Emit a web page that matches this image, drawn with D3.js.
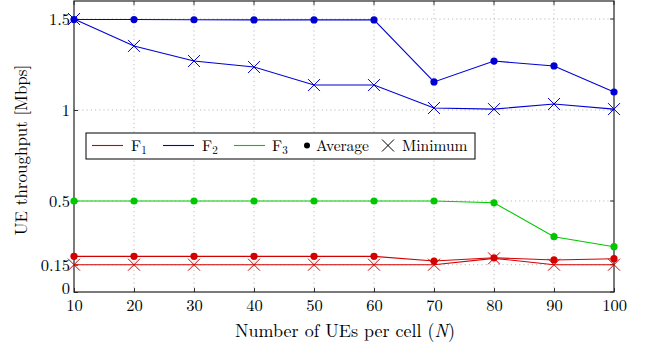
<!DOCTYPE html>
<html><head><meta charset="utf-8">
<script src="https://cdn.jsdelivr.net/npm/d3@7"></script>
<style>body{margin:0;background:#fff}svg{display:block}</style>
</head><body><svg id="c" width="654" height="349"></svg>
<script>
const xs = [10,20,30,40,50,60,70,80,90,100];
const f1Avg = [0.196,0.196,0.196,0.196,0.196,0.196,0.17,0.188,0.176,0.183];
const f1Min = [0.15,0.15,0.15,0.15,0.15,0.15,0.15,0.185,0.15,0.15];
const f2Avg = [1.497,1.497,1.496,1.495,1.495,1.495,1.154,1.269,1.242,1.099];
const f2Min = [1.5,1.352,1.269,1.236,1.137,1.137,1.011,1.005,1.033,1.005];
const f3Avg = [0.5,0.5,0.5,0.5,0.5,0.5,0.5,0.49,0.304,0.249];
const xTicks = [10,20,30,40,50,60,70,80,90,100];
const yTicks = [0,0.15,0.5,1,1.5];
const yTickLabels = ["0","0.15","0.5","1","1.5"];
const colors = {F1:"#d40000",F2:"#0000d4",F3:"#00c800"};
const FONT = "'Latin Modern Roman','CMU Serif','Liberation Serif',serif";

const svg = d3.select("#c");
const L=74,R=614,T=1,B=292;
const x = d3.scaleLinear().domain([10,100]).range([L,R]);
const y = d3.scaleLinear().domain([0,1.6]).range([B,B-1.6*182]);

const g = svg.append("g");
g.selectAll(".gx").data(xTicks.slice(1,-1)).enter().append("line")
 .attr("x1",d=>x(d)).attr("x2",d=>x(d)).attr("y1",T).attr("y2",B)
 .attr("stroke","#bbb").attr("stroke-width",1).attr("stroke-dasharray","1.2,3");
g.selectAll(".gy").data(yTicks.slice(1)).enter().append("line")
 .attr("x1",L).attr("x2",R).attr("y1",d=>y(d)).attr("y2",d=>y(d))
 .attr("stroke","#bbb").attr("stroke-width",1).attr("stroke-dasharray","1.2,3");

const xa = svg.append("g").attr("transform",`translate(0,${B})`)
 .call(d3.axisBottom(x).tickValues(xTicks).tickSize(-4).tickPadding(6).tickFormat(d3.format("d")));
const ya = svg.append("g").attr("transform",`translate(${L},0)`)
 .call(d3.axisLeft(y).tickValues(yTicks).tickSize(-4).tickPadding(4).tickFormat((d,i)=>yTickLabels[i]));
[xa,ya].forEach(a=>{a.attr("font-family",null).attr("font-size",null);
 a.select(".domain").remove();a.selectAll("line").attr("stroke","#333");
 a.selectAll("text").style("font-size","16.5px").style("font-family",FONT).attr("fill","#000");});
ya.selectAll("text").attr("dy","0.33em");
ya.selectAll("text").filter(d=>d===0).attr("dy","0.08em");
xa.selectAll("text").attr("dy","0.78em");
svg.append("g").selectAll("line").data(xTicks).enter().append("line")
 .attr("x1",d=>x(d)).attr("x2",d=>x(d)).attr("y1",T).attr("y2",T+4).attr("stroke","#333");
svg.append("g").selectAll("line").data(yTicks).enter().append("line")
 .attr("x1",R-4).attr("x2",R).attr("y1",d=>y(d)).attr("y2",d=>y(d)).attr("stroke","#333");
svg.append("rect").attr("x",L).attr("y",T).attr("width",R-L).attr("height",B-T)
 .attr("fill","none").attr("stroke","#222").attr("stroke-width",1.2);

const line = d3.line().x((d,i)=>x(xs[i])).y(d=>y(d));
function series(vals,col,marker){
  svg.append("path").datum(vals).attr("d",line).attr("fill","none").attr("stroke",col).attr("stroke-width",1.1);
  const m = svg.append("g");
  vals.forEach((v,i)=>{
    const cx=x(xs[i]),cy=y(v);
    if(marker==="dot") m.append("circle").attr("cx",cx).attr("cy",cy).attr("r",3.6).attr("fill",col);
    else m.append("path").attr("d",`M${cx-6},${cy-6}L${cx+6},${cy+6}M${cx-6},${cy+6}L${cx+6},${cy-6}`).attr("stroke",col).attr("stroke-width",1);
  });
}
series(f1Min,colors.F1,"x");
series(f1Avg,colors.F1,"dot");
series(f3Avg,colors.F3,"dot");
series(f2Min,colors.F2,"x");
series(f2Avg,colors.F2,"dot");

const lg = svg.append("g");
lg.append("rect").attr("x",86).attr("y",133).attr("width",389).attr("height",26).attr("fill","#fff").attr("stroke","#000").attr("stroke-width",1);
const ly=145.5;
function T_(sel,xx,yy,size){return sel.append("text").attr("x",xx).attr("y",yy).style("font-family",FONT).style("font-size",size+"px").attr("fill","#000");}
[["F","1",colors.F1,92,131],["F","2",colors.F2,163,202],["F","3",colors.F3,234,272]].forEach(([t,s,c,lx,tx0])=>{
  lg.append("line").attr("x1",lx).attr("x2",lx+31).attr("y1",ly).attr("y2",ly).attr("stroke",c).attr("stroke-width",1.1);
  const tx=T_(lg,tx0,ly+5,15.5).text(t);
  tx.append("tspan").style("font-size","11px").attr("dy",3).text(s);
});
lg.append("circle").attr("cx",307).attr("cy",ly).attr("r",3).attr("fill","#000");
T_(lg,316,ly+5,15.5).text("Average");
lg.append("path").attr("d",`M${388-6},${ly-6}L${388+6},${ly+6}M${388-6},${ly+6}L${388+6},${ly-6}`).attr("stroke","#000");
T_(lg,402,ly+5,15.5).text("Minimum");

const xl = T_(svg,345,337,18).attr("text-anchor","middle").text("Number of UEs per cell (");
xl.append("tspan").attr("font-style","italic").text("N");
xl.append("tspan").text(")");
T_(svg,0,0,17).attr("transform","translate(27,150) rotate(-90)").attr("text-anchor","middle").text("UE throughput [Mbps]");
</script></body></html>
